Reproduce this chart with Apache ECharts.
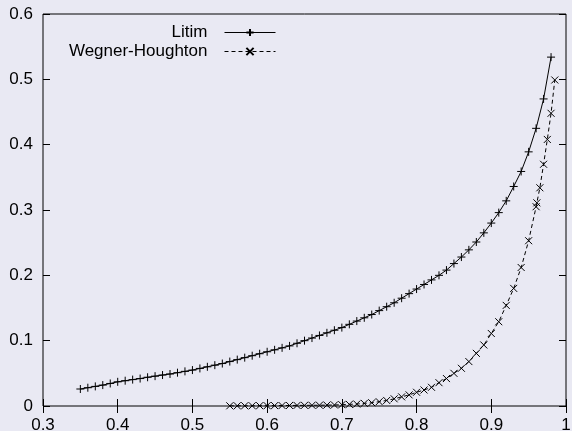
<!DOCTYPE html>
<html>
<head>
<meta charset="utf-8">
<script src="https://cdn.jsdelivr.net/npm/echarts@6/dist/echarts.min.js"></script>
<style>
html,body{margin:0;padding:0;background:#e9e9f3;}
#c{width:572px;height:431px;}
</style>
</head>
<body>
<div id="c"></div>
<script>
// Litim: x = 0.35 .. 0.98 step 0.01
const litimX = [0.35,0.36,0.37,0.38,0.39,0.40,0.41,0.42,0.43,0.44,0.45,0.46,0.47,0.48,0.49,0.50,0.51,0.52,0.53,0.54,0.55,0.56,0.57,0.58,0.59,0.60,0.61,0.62,0.63,0.64,0.65,0.66,0.67,0.68,0.69,0.70,0.71,0.72,0.73,0.74,0.75,0.76,0.77,0.78,0.79,0.80,0.81,0.82,0.83,0.84,0.85,0.86,0.87,0.88,0.89,0.90,0.91,0.92,0.93,0.94,0.95,0.96,0.97,0.98];
const litimY = [0.026,0.028,0.030,0.032,0.0345,0.037,0.0387,0.0404,0.042,0.044,0.0457,0.0474,0.049,0.051,0.053,0.055,0.0575,0.060,0.0625,0.065,0.068,0.071,0.074,0.077,0.080,0.083,0.086,0.089,0.092,0.096,0.100,0.104,0.108,0.112,0.116,0.120,0.125,0.130,0.135,0.140,0.146,0.152,0.158,0.165,0.172,0.179,0.186,0.193,0.200,0.208,0.218,0.228,0.239,0.251,0.265,0.280,0.296,0.314,0.336,0.359,0.389,0.425,0.470,0.534];
// Wegner-Houghton
const whX = [0.55,0.56,0.57,0.58,0.59,0.60,0.61,0.62,0.63,0.64,0.65,0.66,0.67,0.68,0.69,0.70,0.71,0.72,0.73,0.74,0.75,0.76,0.77,0.78,0.79,0.80,0.81,0.82,0.83,0.84,0.85,0.86,0.87,0.88,0.89,0.90,0.91,0.92,0.93,0.94,0.95,0.96,0.961,0.965,0.97,0.975,0.98,0.985];
const whY = [0.0003,0.0003,0.0004,0.0004,0.0005,0.0005,0.0006,0.0007,0.0008,0.0009,0.001,0.0011,0.0012,0.0014,0.0016,0.002,0.0025,0.003,0.004,0.005,0.0066,0.0085,0.011,0.014,0.017,0.021,0.0245,0.0286,0.0357,0.042,0.050,0.0577,0.068,0.0806,0.0934,0.111,0.129,0.154,0.180,0.212,0.253,0.305,0.311,0.334,0.370,0.408,0.448,0.499];
const xTicks = {min:0.3, max:1, interval:0.1};
const yTicks = {min:0, max:0.6, interval:0.1};

const plusSym = 'path://M0,5L10,5M5,0L5,10';
const crossSym = 'path://M0,0L10,10M0,10L10,0';
const font = {fontFamily:'Liberation Sans', fontSize:17, color:'#000'};

const chart = echarts.init(document.getElementById('c'), null, {renderer:'canvas'});
function pairs(xs, ys){ return xs.map((x,i)=>[x, ys[i]]); }
chart.setOption({
  backgroundColor:'#e9e9f3',
  animation:false,
  grid:{left:43, right:6, top:14, bottom:25, containLabel:false, outerBoundsMode:'none',
        show:true, borderColor:'#000', borderWidth:1, backgroundColor:'transparent'},
  legend:[
    {data:['Litim'], right:296, top:24, padding:0, orient:'vertical', align:'right', itemWidth:51, itemHeight:9,
     lineStyle:{width:1}, textStyle:Object.assign({padding:[0,12,0,0]}, font)},
    {data:['Wegner-Houghton'], right:296, top:43, padding:0, orient:'vertical', align:'right', itemWidth:51, itemHeight:9,
     lineStyle:{width:1}, textStyle:Object.assign({padding:[0,12,0,0]}, font)}
  ],
  xAxis:[
    {type:'value', min:xTicks.min, max:xTicks.max, interval:xTicks.interval, position:'bottom',
     axisLine:{show:false}, splitLine:{show:false},
     axisTick:{show:true, inside:true, length:7, lineStyle:{color:'#000'}},
     axisLabel:Object.assign({margin:11}, font)},
    {type:'value', min:xTicks.min, max:xTicks.max, interval:xTicks.interval, position:'top',
     axisLine:{show:false}, splitLine:{show:false},
     axisTick:{show:true, inside:true, length:7, lineStyle:{color:'#000'}},
     axisLabel:{show:false}}
  ],
  yAxis:[
    {type:'value', min:yTicks.min, max:yTicks.max, interval:yTicks.interval, position:'left',
     axisLine:{show:false}, splitLine:{show:false},
     axisTick:{show:true, inside:true, length:7, lineStyle:{color:'#000'}},
     axisLabel:Object.assign({margin:10}, font)},
    {type:'value', min:yTicks.min, max:yTicks.max, interval:yTicks.interval, position:'right',
     axisLine:{show:false}, splitLine:{show:false},
     axisTick:{show:true, inside:true, length:7, lineStyle:{color:'#000'}},
     axisLabel:{show:false}}
  ],
  series:[
    {name:'Litim', type:'line', data:pairs(litimX, litimY), clip:false,
     symbol:plusSym, symbolSize:8, showAllSymbol:true,
     itemStyle:{color:'#000', borderColor:'#000', borderWidth:1},
     lineStyle:{color:'#000', width:1}},
    {name:'Wegner-Houghton', type:'line', data:pairs(whX, whY), clip:false,
     symbol:crossSym, symbolSize:7, showAllSymbol:true,
     itemStyle:{color:'#000', borderColor:'#000', borderWidth:1},
     lineStyle:{color:'#000', width:1, type:[4,3]}}
  ]
});
</script>
</body>
</html>
